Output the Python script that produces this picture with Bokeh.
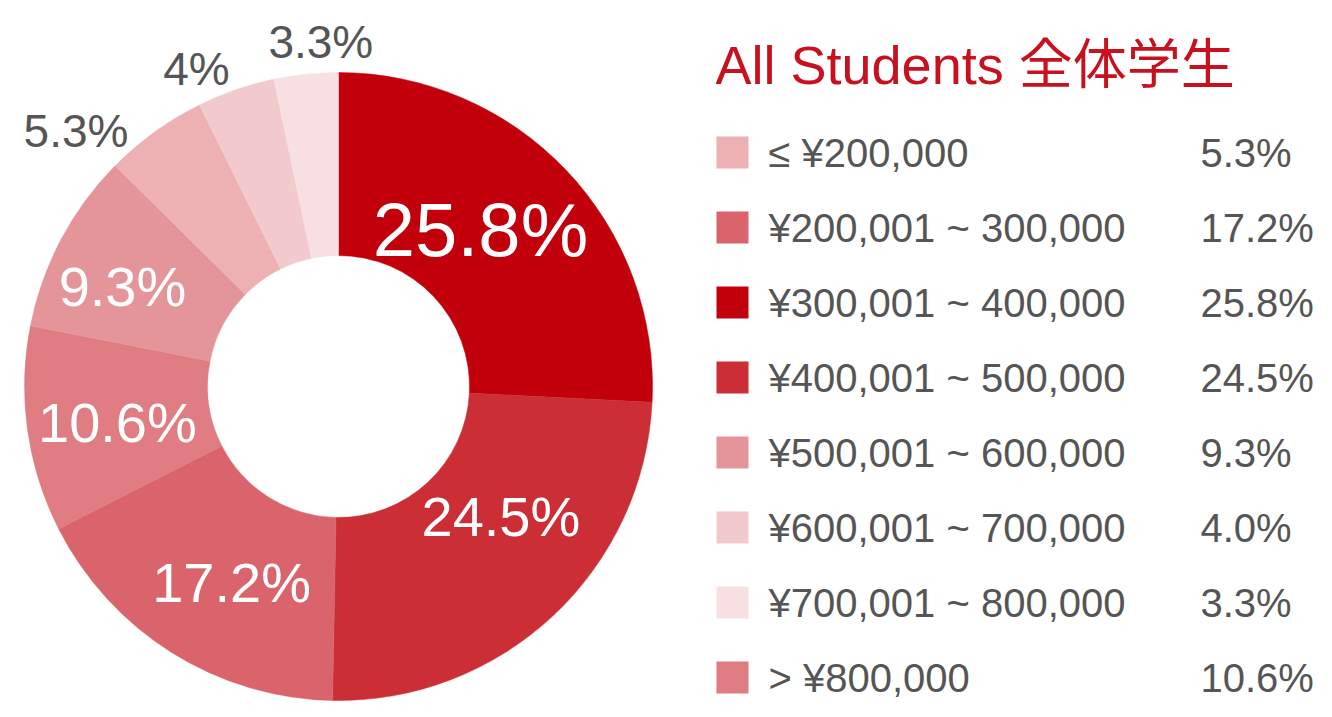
import numpy as np
from bokeh.plotting import figure
from bokeh.models import Range1d, ColumnDataSource
from bokeh.core.properties import value
from bokeh.embed import file_html
from bokeh.resources import INLINE

# ---- data ----
categories = ["≤ ¥200,000", "¥200,001 ~ 300,000", "¥300,001 ~ 400,000",
              "¥400,001 ~ 500,000", "¥500,001 ~ 600,000", "¥600,001 ~ 700,000",
              "¥700,001 ~ 800,000", "> ¥800,000"]
shares = [5.3, 17.2, 25.8, 24.5, 9.3, 4.0, 3.3, 10.6]
title_text = "All Students 全体学生"

# ---- style ----
colors = ["#EDB1B4", "#D9646B", "#C1000B", "#CC2E35",
          "#E4959A", "#F2C9CC", "#F8E0E2", "#DF7D82"]
FONT = "Liberation Sans, Noto Sans CJK JP"
GRAY = "#555555"
RED = "#C8101E"

W, H = 1316, 701
TOP = 717  # data y = TOP - pixel row
p = figure(width=W, height=H, output_backend="svg", toolbar_location=None,
           x_range=Range1d(0, W), y_range=Range1d(TOP - H, TOP),
           min_border=0, tools="")
p.axis.visible = False
p.grid.visible = False
p.outline_line_color = None
p.background_fill_color = "white"

# ---- donut (descending order, clockwise from top) ----
cx, cy = 338, TOP - 386
r_out, r_in = 314, 131
order = sorted(range(len(shares)), key=lambda i: -shares[i])
vals = np.array([shares[i] for i in order])
total = vals.sum()
cum = np.concatenate([[0], np.cumsum(vals)]) / total
start = np.pi / 2 - cum[:-1] * 2 * np.pi
end = np.pi / 2 - cum[1:] * 2 * np.pi
src = ColumnDataSource(dict(start=start, end=end,
                            color=[colors[i] for i in order]))
p.annular_wedge(x=cx, y=cy, inner_radius=r_in, outer_radius=r_out,
                start_angle="start", end_angle="end", direction="clock",
                fill_color="color", line_color="color", line_width=0.5,
                source=src)

# slice labels (placed along each slice's mid-angle, with layout tweaks)
mid_deg = (cum[:-1] + cum[1:]) / 2 * 360
nudge_deg = [-4.4, -8.3, -3.4, -1.3, -3.1, -10, -5, 3]
label_r = [212, 208, 223, 224, 238, 366, 348, 345]
lx, ly, lt, lc, ls = [], [], [], [], []
for k, i in enumerate(order):
    v = shares[i]
    inside = v > 8
    th = np.deg2rad(mid_deg[k] + nudge_deg[k])
    lx.append(cx + label_r[k] * np.sin(th))
    ly.append(cy + label_r[k] * np.cos(th))
    lt.append(f"{v:g}%")
    lc.append("white" if inside else GRAY)
    ls.append("76px" if k == 0 else ("56px" if inside else "46px"))
p.text(x=lx, y=ly, text=lt, text_color=lc, text_font_size=ls,
       text_align="center", text_baseline="middle", text_font=value(FONT))

# ---- legend ----
p.text(x=[715], y=[TOP - 64], text=[title_text], text_color=RED,
       text_font_size="54px", text_baseline="middle",
       text_font=value(FONT))
row_y = [TOP - (152 + 75 * i) for i in range(len(categories))]
p.rect(x=[732] * len(categories), y=row_y, width=32, height=32,
       fill_color=colors, line_color=None)
p.text(x=[768] * len(categories), y=row_y, text=categories, text_color=GRAY,
       text_font_size="40px", text_baseline="middle", text_font=value(FONT))
p.text(x=[1200] * len(categories), y=row_y,
       text=[f"{v:.1f}%" for v in shares], text_color=GRAY,
       text_font_size="40px", text_baseline="middle", text_font=value(FONT))

open("out.html", "w").write(file_html(p, INLINE))
